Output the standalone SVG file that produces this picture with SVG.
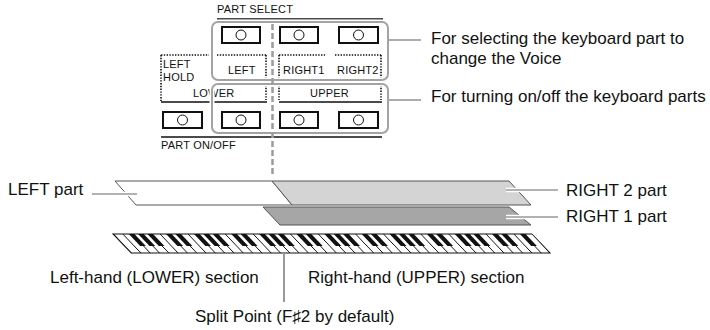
<svg xmlns="http://www.w3.org/2000/svg" width="710" height="330" viewBox="0 0 710 330">
<defs>
<style>
.t{font-family:"Liberation Sans",Arial,sans-serif;font-size:17px;fill:#111}
.p{font-family:"Liberation Sans",Arial,sans-serif;font-size:11px;fill:#111;letter-spacing:0.2px}
.btn{fill:#fff;stroke:#111;stroke-width:2}
.led{fill:#fff;stroke:#111;stroke-width:1}
.dot{fill:none;stroke:#111;stroke-width:1.6;stroke-dasharray:1.4 1.4}
.sol{fill:none;stroke:#111;stroke-width:1.4}
.grpw{fill:none;stroke:#fff;stroke-width:5}
.grp{fill:none;stroke:#a3a3a3;stroke-width:2}
.ld{fill:none;stroke:#999;stroke-width:1.6}
.ldw{fill:none;stroke:#fff;stroke-width:4.5}
.bar{stroke:#555;stroke-width:1}
.bk{fill:#111}
</style>
<pattern id="wk" width="9.3111" height="19" patternUnits="userSpaceOnUse">
<rect width="9.3111" height="19" fill="#fff"/>
<line x1="0.5" y1="0" x2="0.5" y2="19" stroke="#111" stroke-width="1"/>
</pattern>
</defs>

<g id="panel">
<text class="p" x="217" y="13">PART SELECT</text>
<line class="sol" x1="217" y1="19" x2="383" y2="19"/>
<g id="row1">
<rect class="btn" x="222" y="27" width="38" height="16"/><circle class="led" cx="241" cy="35" r="5"/>
<rect class="btn" x="280" y="27" width="38" height="16"/><circle class="led" cx="299" cy="35" r="5"/>
<rect class="btn" x="339" y="27" width="39" height="16"/><circle class="led" cx="358.5" cy="35" r="5"/>
</g>
<path class="dot" d="M161 55H209M217 55H266M279 55H325M335 55H381M161 55V101M266 55V78M279 55V78M381 55V78M266 85V100M279 85V100M381 85V100"/>
<text class="p" x="163" y="68">LEFT</text>
<text class="p" x="163" y="81">HOLD</text>
<text class="p" x="228" y="74">LEFT</text>
<text class="p" x="283" y="74">RIGHT1</text>
<text class="p" x="337" y="74">RIGHT2</text>
<text class="p" x="193" y="97">LOWER</text>
<text class="p" x="310" y="97">UPPER</text>
<path class="sol" d="M161 102H267M279 102H382"/>
<g id="row2">
<rect class="btn" x="163" y="112" width="39" height="16"/><circle class="led" cx="182.5" cy="120" r="5"/>
<rect class="btn" x="222" y="112" width="38" height="16"/><circle class="led" cx="241" cy="120" r="5"/>
<rect class="btn" x="280" y="112" width="38" height="16"/><circle class="led" cx="299" cy="120" r="5"/>
<rect class="btn" x="339" y="112" width="39" height="16"/><circle class="led" cx="358.5" cy="120" r="5"/>
</g>
<line class="sol" x1="161" y1="137" x2="382" y2="137"/>
<text class="p" x="161" y="149">PART ON/OFF</text>
</g>

<g id="group-select">
<rect class="grpw" x="212" y="22" width="176" height="58" rx="6"/>
<rect class="grp" x="212" y="22" width="176" height="58" rx="6"/>
</g>
<g id="group-onoff">
<rect class="grpw" x="212" y="84" width="176" height="49" rx="6"/>
<rect class="grp" x="212" y="84" width="176" height="49" rx="6"/>
</g>

<g id="connectors">
<line x1="272.5" y1="24" x2="272.5" y2="176" stroke="#9c9c9c" stroke-width="2.5" stroke-dasharray="6 3"/>
<line class="ld" x1="389" y1="40" x2="421" y2="40"/>
<line class="ld" x1="389" y1="100" x2="421" y2="100"/>
</g>

<g id="label-select">
<text class="t" x="431" y="44">For selecting the keyboard part to</text>
<text class="t" x="431" y="63.5">change the Voice</text>
</g>
<g id="label-onoff">
<text class="t" x="431" y="102">For turning on/off the keyboard parts</text>
</g>

<g id="left-part">
<polygon class="bar" points="115,181 272,181 292,205 136,205" fill="#fff"/>
<text class="t" x="8" y="195">LEFT part</text>
</g>
<g id="right2-part">
<polygon class="bar" points="272,181 509,181 531,205 292,205" fill="#d4d4d4"/>
<text class="t" x="566" y="196">RIGHT 2 part</text>
</g>
<g id="right1-part">
<polygon class="bar" points="263,207 509,207 531,225 280,225" fill="#a6a6a6"/>
<text class="t" x="566" y="222">RIGHT 1 part</text>
</g>

<g id="part-leaders">
<line class="ldw" x1="92" y1="194" x2="137" y2="194"/>
<line class="ld" x1="92" y1="194" x2="137" y2="194"/>
<line class="ldw" x1="506" y1="190" x2="558" y2="190"/>
<line class="ld" x1="506" y1="190" x2="558" y2="190"/>
<line class="ldw" x1="506" y1="217" x2="558" y2="217"/>
<line class="ld" x1="506" y1="217" x2="558" y2="217"/>
</g>

<g id="keyboard" transform="translate(113,234) skewX(43.5)">
<rect x="0" y="0" width="419" height="19" fill="url(#wk)" stroke="#111" stroke-width="1.2"/>
<g class="bk">
<rect x="15.82" y="0" width="5.6" height="12"/><rect x="25.13" y="0" width="5.6" height="12"/><rect x="34.44" y="0" width="5.6" height="12"/>
<rect x="53.07" y="0" width="5.6" height="12"/><rect x="62.38" y="0" width="5.6" height="12"/>
<rect x="81.00" y="0" width="5.6" height="12"/><rect x="90.31" y="0" width="5.6" height="12"/><rect x="99.62" y="0" width="5.6" height="12"/>
<rect x="118.24" y="0" width="5.6" height="12"/><rect x="127.56" y="0" width="5.6" height="12"/>
<rect x="146.18" y="0" width="5.6" height="12"/><rect x="155.49" y="0" width="5.6" height="12"/><rect x="164.80" y="0" width="5.6" height="12"/>
<rect x="183.42" y="0" width="5.6" height="12"/><rect x="192.73" y="0" width="5.6" height="12"/>
<rect x="211.36" y="0" width="5.6" height="12"/><rect x="220.67" y="0" width="5.6" height="12"/><rect x="229.98" y="0" width="5.6" height="12"/>
<rect x="248.60" y="0" width="5.6" height="12"/><rect x="257.91" y="0" width="5.6" height="12"/>
<rect x="276.53" y="0" width="5.6" height="12"/><rect x="285.84" y="0" width="5.6" height="12"/><rect x="295.16" y="0" width="5.6" height="12"/>
<rect x="313.78" y="0" width="5.6" height="12"/><rect x="323.09" y="0" width="5.6" height="12"/>
<rect x="341.71" y="0" width="5.6" height="12"/><rect x="351.02" y="0" width="5.6" height="12"/><rect x="360.33" y="0" width="5.6" height="12"/>
<rect x="378.96" y="0" width="5.6" height="12"/><rect x="388.27" y="0" width="5.6" height="12"/>
<rect x="406.89" y="0" width="5.6" height="12"/>
</g>
</g>

<g id="split">
<line x1="284" y1="253" x2="284" y2="302" stroke="#999" stroke-width="2"/>
<text class="t" x="50" y="283">Left-hand (LOWER) section</text>
<text class="t" x="308" y="283">Right-hand (UPPER) section</text>
<text class="t" x="195" y="322">Split Point (F♯2 by default)</text>
</g>
</svg>
